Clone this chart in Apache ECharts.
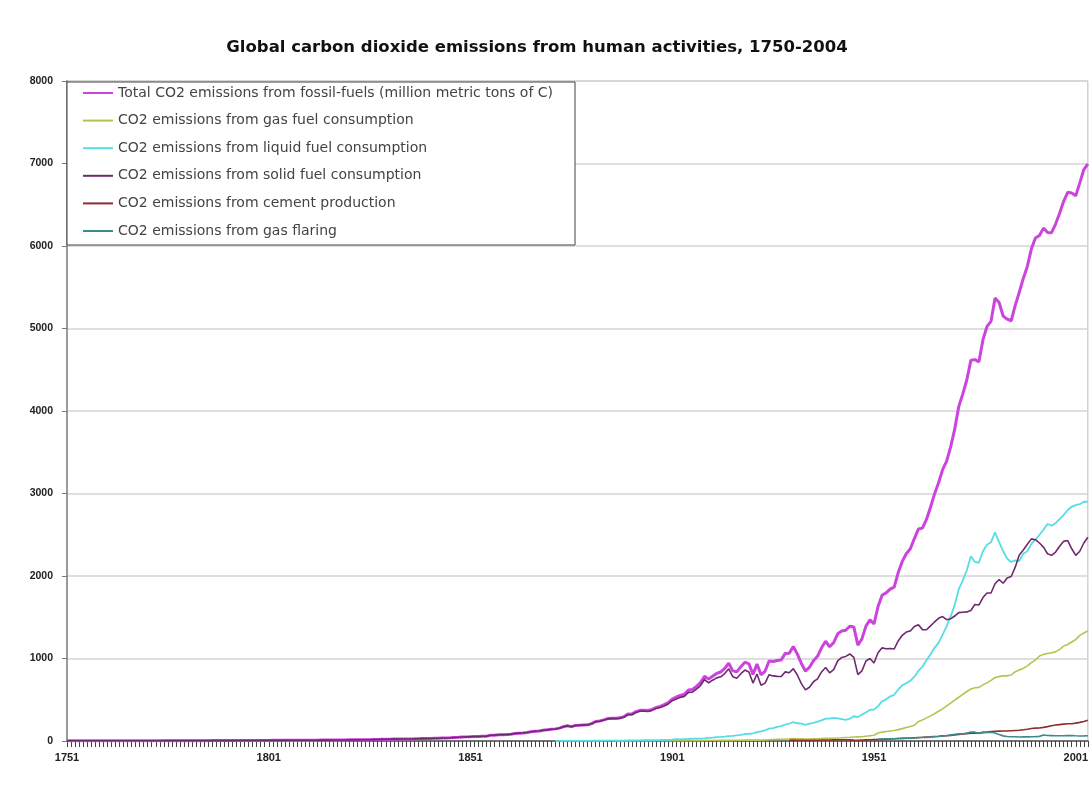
<!DOCTYPE html>
<html>
<head>
<meta charset="utf-8">
<title>Global carbon dioxide emissions from human activities, 1750-2004</title>
<script src="https://cdn.jsdelivr.net/npm/echarts@6/dist/echarts.min.js"></script>
<style>
  html, body { margin: 0; padding: 0; background: #ffffff; }
  #chart { width: 1091px; height: 789px; }
</style>
</head>
<body>
<div id="chart"></div>
<script>
// Category axis: one entry per year
const firstYear = 1751;
const lastYear = 2004;
const years = [];
for (let y = firstYear; y <= lastYear; y++) years.push(String(y));

const yTicks = [0, 1000, 2000, 3000, 4000, 5000, 6000, 7000, 8000];

const seriesNames = [
  'Total CO2 emissions from fossil-fuels (million metric tons of C)',
  'CO2 emissions from gas fuel consumption',
  'CO2 emissions from liquid fuel consumption',
  'CO2 emissions from solid fuel consumption',
  'CO2 emissions from cement production',
  'CO2 emissions from gas flaring'
];

// Total, from 1751 (one row per ten years)
const totalFossil = [
  3, 3, 3, 3, 3, 3, 3, 3, 3, 3,
  3, 3, 3, 3, 3, 3, 3, 3, 3, 3,
  3, 3, 3, 3, 4, 4, 4, 4, 4, 4,
  4, 4, 4, 4, 4, 4, 5, 5, 5, 5,
  5, 5, 5, 6, 6, 6, 6, 6, 7, 7,
  7, 8, 8, 8, 8, 9, 9, 9, 9, 10,
  9, 10, 10, 11, 11, 11, 12, 12, 13, 13,
  14, 14, 14, 15, 16, 16, 17, 18, 20, 21,
  22, 24, 23, 24, 25, 25, 26, 28, 29, 30,
  31, 33, 34, 36, 37, 39, 43, 45, 48, 50,
  52, 54, 54, 57, 59, 69, 71, 76, 77, 78,
  83, 91, 95, 97, 104, 112, 119, 122, 130, 135,
  142, 147, 156, 173, 184, 174, 188, 191, 194, 196,
  210, 236, 243, 256, 272, 275, 277, 281, 295, 327,
  327, 356, 372, 374, 370, 383, 406, 419, 440, 465,
  507, 534, 552, 566, 617, 624, 663, 707, 784, 750,
  785, 819, 836, 879, 943, 850, 838, 901, 955, 936,
  806, 932, 803, 845, 970, 963, 975, 983, 1062, 1065,
  1145, 1053, 940, 847, 893, 973, 1027, 1130, 1209, 1142,
  1192, 1299, 1334, 1342, 1391, 1383, 1160, 1238, 1392, 1469,
  1419, 1630, 1767, 1795, 1841, 1865, 2042, 2177, 2270, 2330,
  2454, 2569, 2580, 2686, 2833, 2995, 3130, 3288, 3393, 3566,
  3780, 4053, 4208, 4376, 4614, 4623, 4596, 4864, 5026, 5087,
  5369, 5315, 5152, 5113, 5094, 5280, 5439, 5607, 5752, 5965,
  6097, 6127, 6217, 6164, 6162, 6266, 6398, 6542, 6651, 6643,
  6610, 6765, 6927, 6996
];

// Gas fuel, from 1887
const gasFrom = 1887;
const gasFuel = [
  1, 2, 2, 3,
  3, 3, 3, 3, 3, 3, 3, 3, 3, 3,
  3, 3, 3, 3, 4, 4, 4, 5, 6, 6,
  6, 7, 8, 8, 8, 8, 9, 10, 11, 11,
  11, 12, 11, 13, 16, 18, 20, 21, 24, 26,
  29, 28, 26, 24, 24, 26, 28, 31, 34, 33,
  34, 37, 39, 42, 45, 49, 50, 51, 57, 63,
  69, 97, 108, 116, 122, 128, 138, 150, 163, 175,
  192, 235, 255, 280, 305, 330, 360, 390, 425, 460,
  495, 530, 565, 600, 630, 645, 650, 680, 705, 735,
  770, 780, 790, 790, 800, 840, 860, 880, 910, 950,
  980, 1030, 1050, 1060, 1070, 1080, 1110, 1150, 1170, 1200,
  1230, 1280, 1310, 1335
];

// Liquid fuel, from 1872
const liquidFrom = 1872;
const liquidFuel = [
  1, 1, 1, 1, 1, 1, 1, 2, 2,
  2, 3, 3, 4, 4, 4, 5, 5, 5, 6,
  6, 8, 8, 9, 9, 9, 10, 11, 12, 13,
  16, 23, 20, 22, 24, 28, 30, 30, 33, 38,
  42, 47, 50, 54, 60, 63, 68, 75, 84, 88,
  93, 108, 116, 130, 150, 156, 172, 180, 200, 212,
  228, 215, 210, 196, 210, 220, 236, 250, 271, 270,
  280, 275, 265, 255, 270, 300, 290, 320, 345, 380,
  380, 423, 480, 505, 540, 560, 625, 675, 700, 730,
  780, 849, 900, 980, 1050, 1130, 1190, 1290, 1390, 1510,
  1650, 1839, 1945, 2070, 2240, 2170, 2160, 2300, 2380, 2410,
  2530, 2410, 2300, 2210, 2170, 2190, 2180, 2270, 2300, 2390,
  2440, 2500, 2560, 2630, 2610, 2640, 2690, 2740, 2800, 2840,
  2860, 2870, 2900, 2900
];

// Solid fuel, from 1751
const solidFuel = [
  3, 3, 3, 3, 3, 3, 3, 3, 3, 3,
  3, 3, 3, 3, 3, 3, 3, 3, 3, 3,
  3, 3, 3, 3, 4, 4, 4, 4, 4, 4,
  4, 4, 4, 4, 4, 4, 5, 5, 5, 5,
  5, 5, 5, 6, 6, 6, 6, 6, 7, 7,
  7, 8, 8, 8, 8, 9, 9, 9, 9, 10,
  9, 10, 10, 11, 11, 11, 12, 12, 13, 13,
  14, 14, 14, 15, 16, 16, 17, 18, 20, 21,
  22, 24, 23, 24, 25, 25, 26, 28, 29, 30,
  31, 33, 34, 36, 37, 39, 43, 45, 48, 50,
  52, 54, 54, 57, 59, 69, 71, 76, 77, 78,
  83, 91, 95, 97, 104, 112, 119, 122, 130, 135,
  142, 146, 155, 172, 183, 173, 187, 190, 192, 194,
  208, 233, 240, 252, 268, 271, 271, 274, 287, 318,
  318, 345, 361, 362, 358, 371, 393, 405, 425, 449,
  488, 508, 529, 541, 589, 592, 629, 672, 745, 706,
  737, 765, 778, 817, 875, 779, 761, 816, 860, 837,
  702, 812, 676, 702, 804, 789, 783, 782, 838, 827,
  877, 800, 696, 620, 651, 718, 753, 837, 891, 826,
  865, 972, 1013, 1025, 1055, 1013, 805, 850, 970, 1000,
  945, 1070, 1129, 1118, 1122, 1115, 1213, 1281, 1320, 1334,
  1388, 1410, 1350, 1348, 1395, 1443, 1487, 1508, 1470, 1481,
  1515, 1556, 1561, 1565, 1582, 1655, 1648, 1739, 1794, 1794,
  1906, 1958, 1912, 1977, 1994, 2107, 2254, 2315, 2384, 2450,
  2440, 2400, 2350, 2270, 2250, 2290, 2360, 2420, 2430, 2330,
  2250, 2300, 2400, 2470
];

// Cement production, from 1930
const cementFrom = 1930;
const cement = [
  10,
  11, 10, 9, 7, 8, 9, 10, 12, 13, 13,
  14, 15, 15, 15, 14, 11, 10, 12, 14, 16,
  17, 18, 20, 22, 24, 27, 30, 32, 34, 36,
  40, 43, 45, 48, 51, 55, 58, 62, 64, 68,
  72, 78, 84, 89, 95, 96, 95, 102, 108, 116,
  119, 120, 121, 121, 125, 128, 131, 137, 143, 152,
  156, 157, 165, 174, 184, 193, 199, 205, 209, 209,
  217, 226, 237, 251
];

// Gas flaring, from 1952
const flaringFrom = 1952;
const gasFlaring = [
  23, 24, 26, 27, 27, 31, 32, 35, 35,
  36, 39, 42, 44, 47, 51, 55, 60, 66, 73,
  80, 87, 88, 95, 110, 107, 92, 108, 104, 106,
  98, 78, 62, 54, 52, 51, 49, 51, 50, 52,
  53, 56, 72, 67, 65, 63, 63, 64, 65, 66,
  63, 61, 62, 64
];

// [category index, value] pairs for a run of yearly values starting at `from`
function yearly(from, values) {
  return values.map((v, i) => [from - firstYear + i, v]);
}

const colors = ['#CC44DD', '#B9C24E', '#55DDE6', '#6E2A6E', '#8E2E2E', '#3C8C8E'];
const widths = [3, 1.6, 1.8, 1.6, 1.6, 1.6];
const seriesValues = [
  yearly(firstYear, totalFossil),
  yearly(gasFrom, gasFuel),
  yearly(liquidFrom, liquidFuel),
  yearly(firstYear, solidFuel),
  yearly(cementFrom, cement),
  yearly(flaringFrom, gasFlaring)
];

const chart = echarts.init(document.getElementById('chart'), null, { renderer: 'canvas' });

chart.setOption({
  animation: false,
  backgroundColor: '#ffffff',
  title: {
    text: 'Global carbon dioxide emissions from human activities, 1750-2004',
    left: 537,
    top: 39,
    textAlign: 'center',
    padding: 0,
    textStyle: {
      fontFamily: 'DejaVu Sans',
      fontWeight: 'bold',
      fontSize: 16.5,
      color: '#111111'
    }
  },
  legend: {
    orient: 'vertical',
    left: 67,
    top: 82,
    padding: [4, 22, 7, 15],
    itemGap: 13.6,
    itemWidth: 30,
    itemHeight: 4,
    backgroundColor: '#ffffff',
    borderColor: '#444444',
    borderWidth: 1,
    itemStyle: { opacity: 0 },
    textStyle: {
      fontFamily: 'DejaVu Sans',
      fontSize: 14,
      lineHeight: 14,
      color: '#444444'
    },
    data: seriesNames,
    z: 10
  },
  grid: {
    left: 67,
    right: 1,
    top: 81,
    bottom: 48,
    show: true,
    borderColor: '#bdbdbd',
    borderWidth: 1
  },
  xAxis: {
    type: 'category',
    data: years,
    boundaryGap: false,
    axisLine: { lineStyle: { color: '#555555', width: 1.5 } },
    axisTick: { interval: 0, length: 6, lineStyle: { color: '#444444', width: 1 } },
    axisLabel: {
      interval: 49,
      margin: 11,
      fontFamily: 'Liberation Sans',
      fontWeight: 'bold',
      fontSize: 11,
      color: '#222222'
    },
    splitLine: { show: false }
  },
  yAxis: {
    type: 'value',
    min: yTicks[0],
    max: yTicks[yTicks.length - 1],
    interval: 1000,
    axisLine: { show: true, lineStyle: { color: '#9a9a9a', width: 2 } },
    axisTick: { show: true, length: 5, lineStyle: { color: '#777777' } },
    axisLabel: {
      margin: 14,
      fontFamily: 'Liberation Sans',
      fontWeight: 'bold',
      fontSize: 10.5,
      color: '#222222',
      formatter: (v) => String(v)
    },
    splitLine: { lineStyle: { color: '#d4d4d4', width: 1.5 } }
  },
  series: seriesNames.map((name, k) => ({
    name: name,
    type: 'line',
    data: seriesValues[k],
    symbol: 'none',
    smooth: false,
    color: colors[k],
    lineStyle: { color: colors[k], width: widths[k] },
    z: 2 + k
  }))
});
</script>
</body>
</html>
